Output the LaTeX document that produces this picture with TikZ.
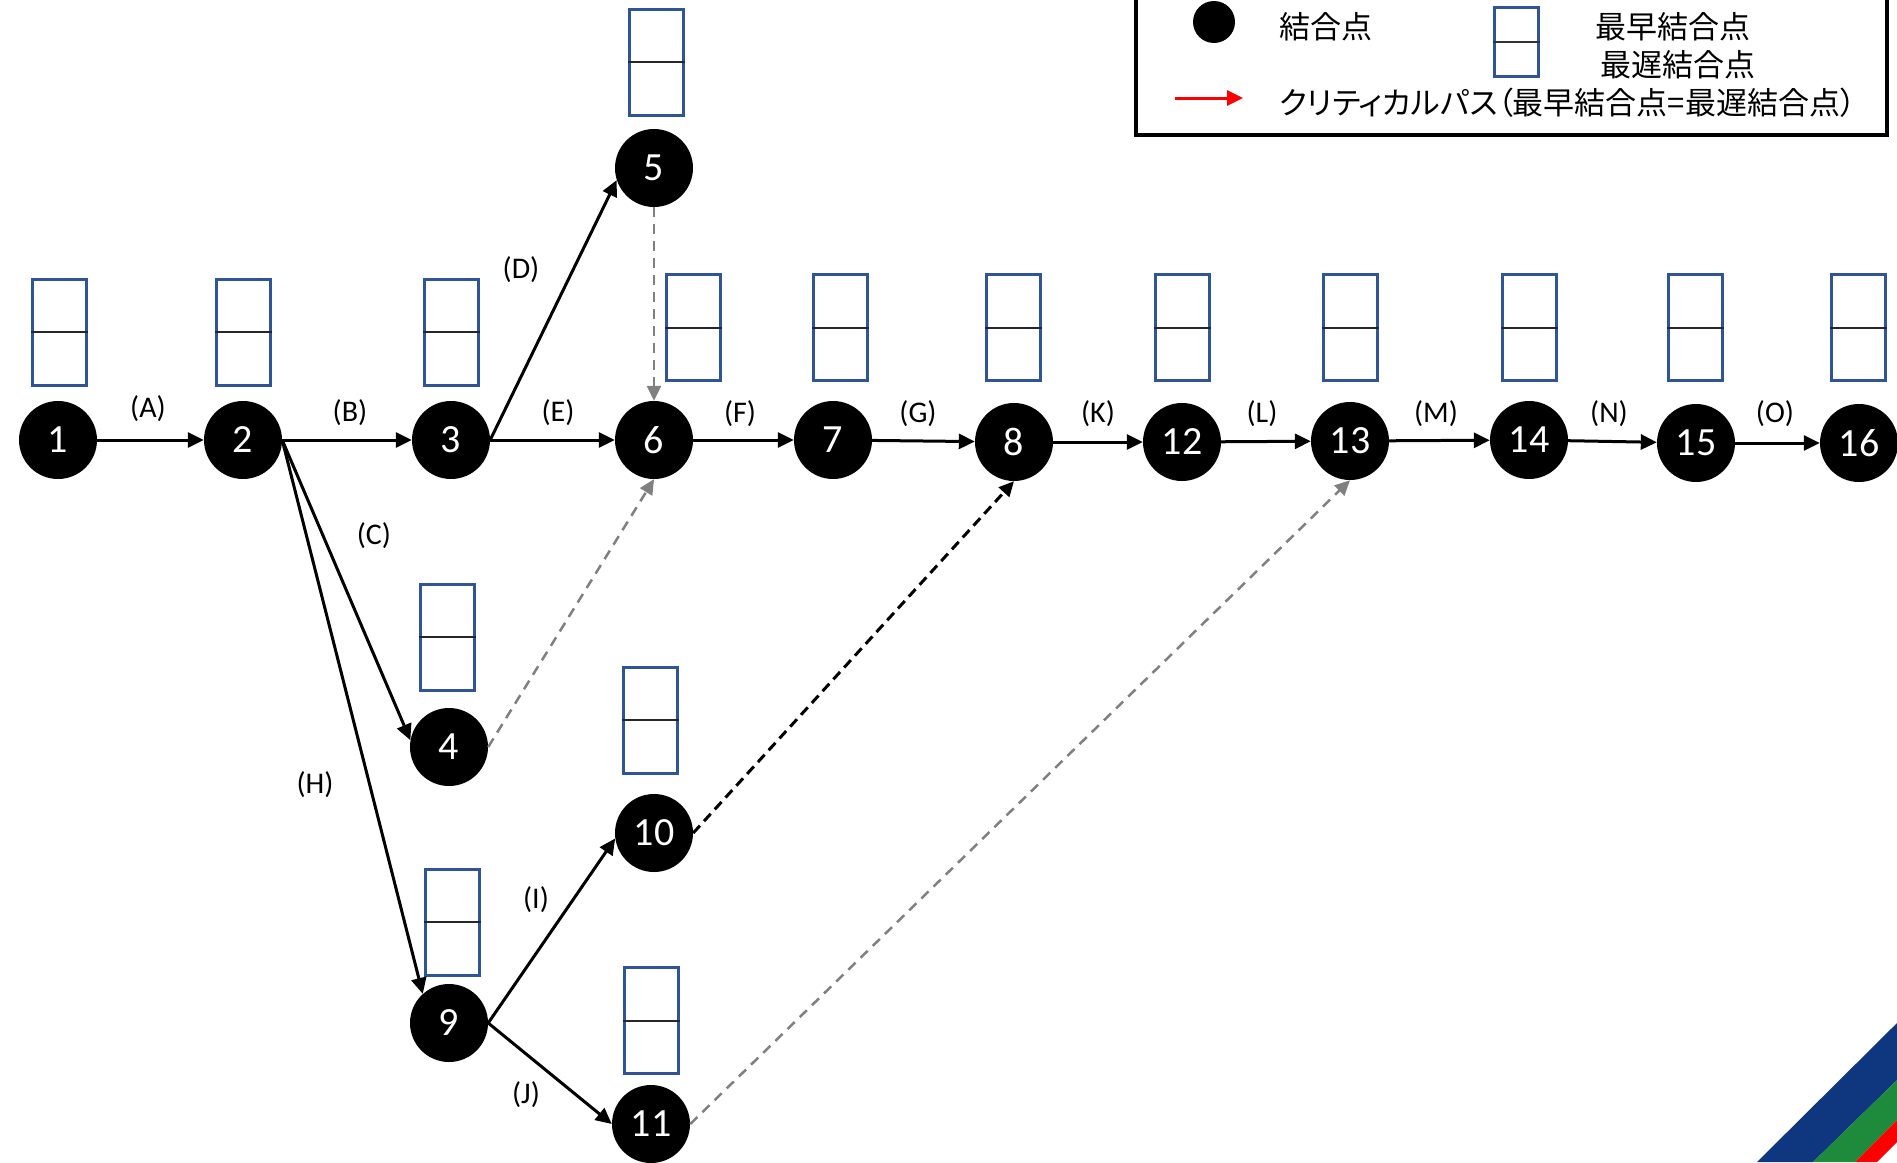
\documentclass[tikz,border=0pt]{standalone}
\usepackage{fontspec}
\setmainfont{Carlito}
\newfontfamily\jp[RawFeature=+palt]{Noto Sans CJK JP}
\usetikzlibrary{arrows.meta}
\definecolor{boxblue}{HTML}{2F5597}
\definecolor{stripeblue}{HTML}{0F3780}
\definecolor{stripegreen}{HTML}{1E8A3C}
\tikzset{
  ev/.style={circle, fill=black, minimum size=78pt, inner sep=0pt, text=white, font=\fontsize{40}{40}\selectfont},
  tbox/.style={draw=boxblue, line width=3pt, fill=white, minimum width=54pt, minimum height=106pt, inner sep=0pt},
  lbl/.style={font=\fontsize{30}{30}\selectfont, inner sep=0pt},
  act/.style={line width=3pt, -{Triangle[length=16pt,width=15pt]}},
  dumgray/.style={line width=2.5pt, gray, dash pattern=on 10pt off 7pt, -{Triangle[length=15pt,width=14pt]}},
  dumblack/.style={line width=3pt, black, dash pattern=on 10pt off 6pt, -{Triangle[length=15pt,width=14pt]}},
  jpt/.style={font=\jp\fontsize{31}{31}\selectfont, inner sep=0pt, anchor=west},
}
\begin{document}
\begin{tikzpicture}[x=1pt,y=-1pt]
\clip (0,0) rectangle (1897,1162);
\fill[white] (0,0) rectangle (1897,1162);

% stripes
\fill[stripeblue] (1897,1023) -- (1757,1162) -- (1813,1162) -- (1897,1080) -- cycle;
\fill[stripegreen] (1897,1080) -- (1813,1162) -- (1855,1162) -- (1897,1120) -- cycle;
\fill[red] (1897,1120) -- (1855,1162) -- (1877,1162) -- (1897,1142) -- cycle;

% legend
\draw[line width=4pt] (1136,-20) rectangle (1887,135);
\node[circle, fill=black, minimum size=42pt, inner sep=0pt] (lgc) at (1214,22) {};
\node[jpt] (lgt1) at (1279,27) {結合点};
\node[draw=boxblue, line width=3pt, minimum width=44pt, minimum height=69pt, inner sep=0pt] (lgb) at (1516,41.5) {};
\draw[line width=2pt, black!80] (lgb.west) -- (lgb.east);
\node[jpt] (lgt2) at (1595,27) {最早結合点};
\node[jpt] (lgt3) at (1600,65) {最遅結合点};
\coordinate (lga1) at (1175,98);
\coordinate (lga2) at (1243,98);
\draw[line width=3pt, red, -{Triangle[length=16pt,width=15pt]}] (lga1) -- (lga2);
\node[jpt] (lgt4) at (1279,103) {クリティカルパス（最早結合点=最遅結合点）};

% boxes
\foreach \n/\x/\y in {1/59.5/332, 2/243/332, 3/451.5/332, 5/656/62, 6/693.5/327.5, 7/840.5/327.5, 8/1013.5/327.5, 12/1182/327.5, 13/1350/327.5, 14/1529.5/327.5, 15/1695/327.5, 16/1858.5/327.5, 4/447/637, 10/650/720, 9/452.5/922, 11/651/1020.5}{
  \node[tbox] (b\n) at (\x,\y) {};
  \draw[line width=2pt, black!85] (b\n.west) -- (b\n.east);
}

% events
\node[ev] (n1) at (58,440) {1};
\node[ev] (n2) at (243,440) {2};
\node[ev] (n3) at (451,440) {3};
\node[ev] (n5) at (654,168) {5};
\node[ev] (n6) at (654,440) {6};
\node[ev] (n7) at (833,440) {7};
\node[ev] (n8) at (1014,442) {8};
\node[ev] (n12) at (1182,442) {12};
\node[ev] (n13) at (1350,441) {13};
\node[ev] (n14) at (1529,440) {14};
\node[ev] (n15) at (1696,443) {15};
\node[ev] (n16) at (1859,443) {16};
\node[ev] (n4) at (449,747) {4};
\node[ev] (n10) at (654,833) {10};
\node[ev] (n9) at (449,1023) {9};
\node[ev] (n11) at (651,1124) {11};

% activities
\draw[act] (n1) -- (n2);
\draw[act] (n2) -- (n3);
\draw[act] (n3) -- (n6);
\draw[act] (n3.east) -- (n5.198);
\draw[act] (n2.east) -- (n4.170);
\draw[act] (n2.east) -- (n9.132);
\draw[act] (n9.east) -- (n10.188);
\draw[act] (n9.east) -- (n11.west);
\draw[act] (n6) -- (n7);
\draw[act] (n7) -- (n8);
\draw[act] (n8) -- (n12);
\draw[act] (n12) -- (n13);
\draw[act] (n13) -- (n14);
\draw[act] (n14) -- (n15);
\draw[act] (n15) -- (n16);

% dummies
\draw[dumgray] (n5.south) -- (n6.north);
\draw[dumgray] (n4.east) -- (n6.south);
\draw[dumgray] (n11.east) -- (n13.south);
\draw[dumblack] (n10.east) -- (n8.south);

% labels
\node[lbl] (la) at (148,409) {(A)};
\node[lbl] (lb) at (350,413) {(B)};
\node[lbl] (le) at (558,413) {(E)};
\node[lbl] (ld) at (521,270) {(D)};
\node[lbl] (lc) at (374,536) {(C)};
\node[lbl] (lh) at (315,785) {(H)};
\node[lbl] (li) at (536,900) {(I)};
\node[lbl] (lj) at (526,1095) {(J)};
\node[lbl] (lf) at (740,414) {(F)};
\node[lbl] (lg) at (918,414) {(G)};
\node[lbl] (lk) at (1098,414) {(K)};
\node[lbl] (ll) at (1262,414) {(L)};
\node[lbl] (lm) at (1436,414) {(M)};
\node[lbl] (ln) at (1609,414) {(N)};
\node[lbl] (lo) at (1775,414) {(O)};
\end{tikzpicture}
\end{document}
